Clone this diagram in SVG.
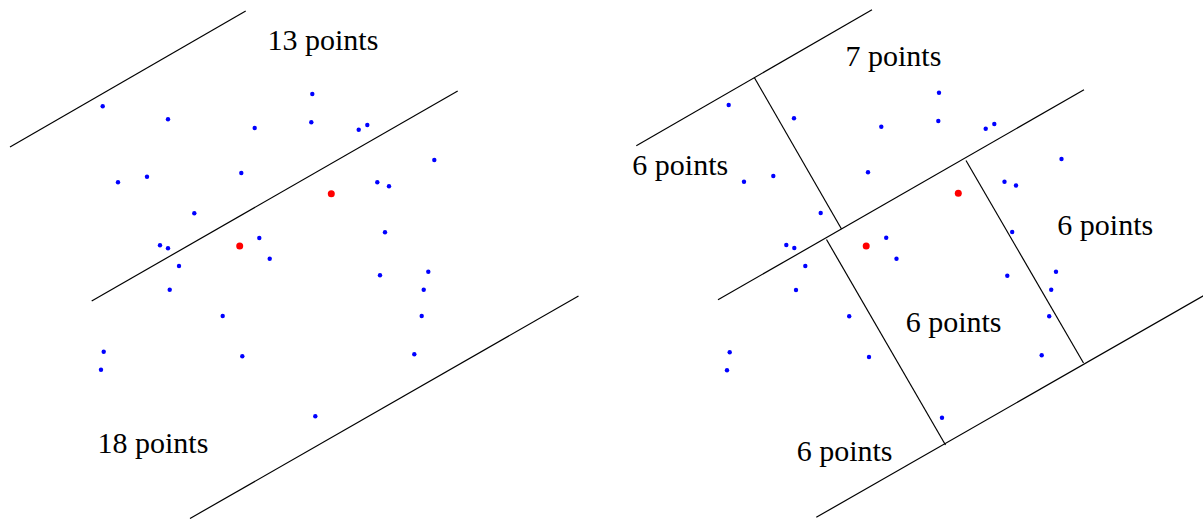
<svg xmlns="http://www.w3.org/2000/svg" width="1203" height="519" viewBox="0 0 1203 519">
<style>
.ln{stroke:#000;stroke-width:1.2;fill:none}
.b{fill:#0000ff}
.r{fill:#ff0000}
.lbl{font-family:"Liberation Serif","Times New Roman",serif;font-size:30px;fill:#000}
</style>
<rect width="1203" height="519" fill="#fff"/>
<g id="left-panel">
<g id="left-lines">
<line class="ln" x1="10" y1="147" x2="245.7" y2="11"/>
<line class="ln" x1="91.7" y1="301" x2="457.7" y2="91"/>
<line class="ln" x1="190" y1="518.5" x2="578.5" y2="296"/>
</g>
<g id="left-points">
<circle class="b" cx="102.7" cy="106.3" r="2.2"/>
<circle class="b" cx="168" cy="119.3" r="2.2"/>
<circle class="b" cx="254.7" cy="128" r="2.2"/>
<circle class="b" cx="312.3" cy="94" r="2.2"/>
<circle class="b" cx="311.3" cy="122.3" r="2.2"/>
<circle class="b" cx="358.7" cy="129.7" r="2.2"/>
<circle class="b" cx="367.3" cy="125" r="2.2"/>
<circle class="b" cx="434.3" cy="160" r="2.2"/>
<circle class="b" cx="118" cy="182.3" r="2.2"/>
<circle class="b" cx="147" cy="176.7" r="2.2"/>
<circle class="b" cx="241.3" cy="173" r="2.2"/>
<circle class="b" cx="194.3" cy="213.3" r="2.2"/>
<circle class="b" cx="377.3" cy="182.3" r="2.2"/>
<circle class="b" cx="389" cy="186.3" r="2.2"/>
<circle class="b" cx="385" cy="232.3" r="2.2"/>
<circle class="b" cx="259.3" cy="238" r="2.2"/>
<circle class="b" cx="160" cy="245.3" r="2.2"/>
<circle class="b" cx="168" cy="248.3" r="2.2"/>
<circle class="b" cx="179" cy="266" r="2.2"/>
<circle class="b" cx="269.7" cy="258.7" r="2.2"/>
<circle class="b" cx="380" cy="275.3" r="2.2"/>
<circle class="b" cx="428.3" cy="271.7" r="2.2"/>
<circle class="b" cx="423.7" cy="289.7" r="2.2"/>
<circle class="b" cx="169.7" cy="289.7" r="2.2"/>
<circle class="b" cx="222.7" cy="316" r="2.2"/>
<circle class="b" cx="421.7" cy="316" r="2.2"/>
<circle class="b" cx="103.7" cy="351.7" r="2.2"/>
<circle class="b" cx="101" cy="369.7" r="2.2"/>
<circle class="b" cx="242.3" cy="356.3" r="2.2"/>
<circle class="b" cx="414.3" cy="354.3" r="2.2"/>
<circle class="b" cx="315.3" cy="416.3" r="2.2"/>
<circle class="r" cx="331.3" cy="193.7" r="3.5"/>
<circle class="r" cx="239.7" cy="246" r="3.5"/>
</g>
<g id="left-labels">
<text class="lbl" x="267.5" y="49.5">13 points</text>
<text class="lbl" x="97.5" y="452.7">18 points</text>
</g>
</g>
<g id="right-panel">
<g id="right-lines">
<line class="ln" x1="636.3" y1="145.8" x2="872" y2="9.8"/>
<line class="ln" x1="718" y1="299.8" x2="1084" y2="89.8"/>
<line class="ln" x1="816.3" y1="517.3" x2="1205" y2="294.8"/>
<line class="ln" x1="754.3" y1="77.5" x2="841.5" y2="229"/>
<line class="ln" x1="826.5" y1="239.5" x2="945.5" y2="445"/>
<line class="ln" x1="966" y1="160.5" x2="1083.5" y2="363"/>
</g>
<g id="right-points">
<circle class="b" cx="728.7" cy="105" r="2.2"/>
<circle class="b" cx="794" cy="118.3" r="2.2"/>
<circle class="b" cx="881.3" cy="126.7" r="2.2"/>
<circle class="b" cx="939" cy="92.7" r="2.2"/>
<circle class="b" cx="938.3" cy="121" r="2.2"/>
<circle class="b" cx="985.7" cy="128.7" r="2.2"/>
<circle class="b" cx="994.3" cy="124" r="2.2"/>
<circle class="b" cx="1061.5" cy="159" r="2.2"/>
<circle class="b" cx="744" cy="181.7" r="2.2"/>
<circle class="b" cx="773.3" cy="176" r="2.2"/>
<circle class="b" cx="868" cy="172.3" r="2.2"/>
<circle class="b" cx="820.7" cy="213" r="2.2"/>
<circle class="b" cx="1004.5" cy="181.7" r="2.2"/>
<circle class="b" cx="1016" cy="185.5" r="2.2"/>
<circle class="b" cx="1012.2" cy="232" r="2.2"/>
<circle class="b" cx="886.2" cy="237.7" r="2.2"/>
<circle class="b" cx="786.3" cy="245" r="2.2"/>
<circle class="b" cx="794.3" cy="248" r="2.2"/>
<circle class="b" cx="805.3" cy="266" r="2.2"/>
<circle class="b" cx="896.5" cy="258.7" r="2.2"/>
<circle class="b" cx="1007.3" cy="275.7" r="2.2"/>
<circle class="b" cx="1056" cy="271.8" r="2.2"/>
<circle class="b" cx="1051.2" cy="289.8" r="2.2"/>
<circle class="b" cx="796" cy="290" r="2.2"/>
<circle class="b" cx="849.2" cy="316.3" r="2.2"/>
<circle class="b" cx="1049.2" cy="316.3" r="2.2"/>
<circle class="b" cx="729.7" cy="352.3" r="2.2"/>
<circle class="b" cx="727" cy="370.3" r="2.2"/>
<circle class="b" cx="869" cy="357" r="2.2"/>
<circle class="b" cx="1041.7" cy="355.3" r="2.2"/>
<circle class="b" cx="942" cy="417.7" r="2.2"/>
<circle class="r" cx="958.3" cy="193.2" r="3.5"/>
<circle class="r" cx="866.2" cy="246" r="3.5"/>
</g>
<g id="right-labels">
<text class="lbl" x="845.5" y="66">7 points</text>
<text class="lbl" x="632.3" y="175">6 points</text>
<text class="lbl" x="1057.3" y="235">6 points</text>
<text class="lbl" x="905.7" y="331.7">6 points</text>
<text class="lbl" x="796.7" y="460.7">6 points</text>
</g>
</g>
</svg>
